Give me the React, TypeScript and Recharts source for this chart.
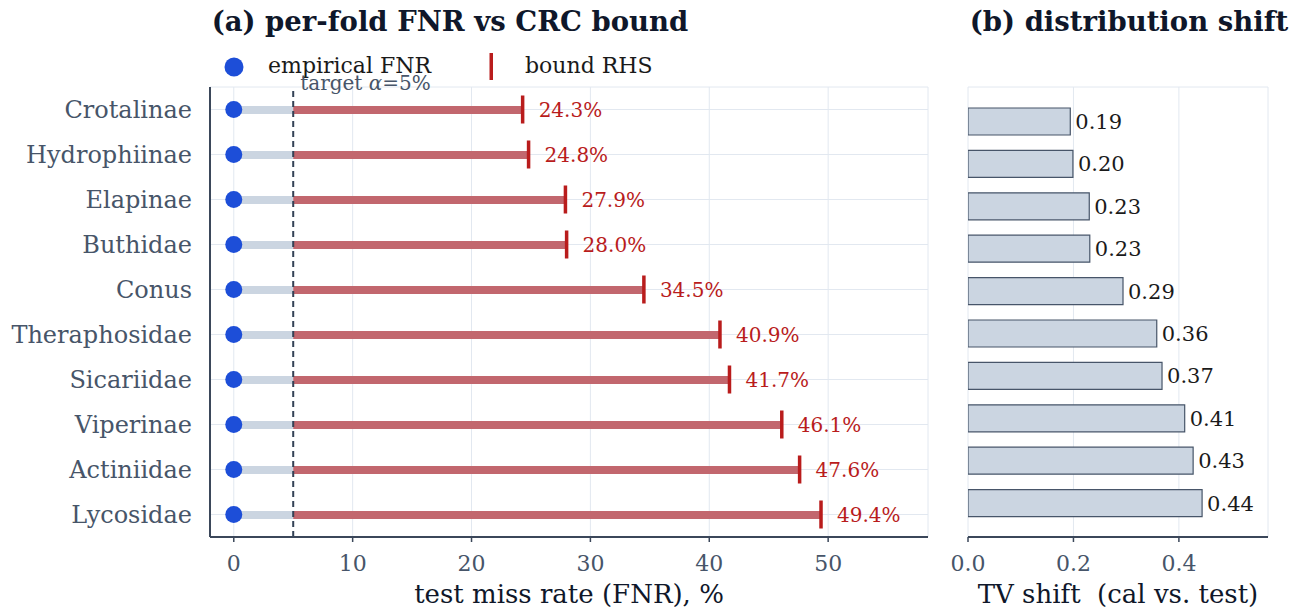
import React from 'react';
import {
  ComposedChart,
  BarChart,
  Bar,
  Line,
  XAxis,
  YAxis,
  CartesianGrid,
  ReferenceLine,
  LabelList,
} from 'recharts';

const categories = [
  'Crotalinae',
  'Hydrophiinae',
  'Elapinae',
  'Buthidae',
  'Conus',
  'Theraphosidae',
  'Sicariidae',
  'Viperinae',
  'Actiniidae',
  'Lycosidae',
];
const empiricalFnr = [0, 0, 0, 0, 0, 0, 0, 0, 0, 0];
const boundRhs = [24.3, 24.8, 27.9, 28.0, 34.5, 40.9, 41.7, 46.1, 47.6, 49.4];
const tvShift = [0.194, 0.199, 0.23, 0.231, 0.294, 0.358, 0.368, 0.411, 0.427, 0.444];
const targetAlpha = 5;
const fnrTicks = [0, 10, 20, 30, 40, 50];
const tvTicks = [0, 0.2, 0.4];

const FONT = '"DejaVu Serif", serif';
const SLATE = '#475569';
const AXIS = '#3b475a';
const GRID = '#e2e8f0';
const RED = '#b91c1c';
const BLUE = '#1d4ed8';

const fnrData = categories.map((name, i) => ({
  name,
  fnr: empiricalFnr[i],
  below: [empiricalFnr[i], targetAlpha],
  excess: [targetAlpha, boundRhs[i]],
  bound: boundRhs[i],
}));

const tvData = categories.map((name, i) => ({ name, tv: tvShift[i] }));

const BlueDot = (p: any) => (
  <circle key={`d${p.index}`} cx={p.cx} cy={p.cy} r={8.5} fill={BLUE} />
);

const BoundTick = (p: any) => (
  <rect key={`t${p.index}`} x={p.cx - 1.75} y={p.cy - 14} width={3.5} height={28} fill={RED} />
);

const TargetLabel = (p: any) => {
  const x = p.viewBox?.x ?? 0;
  const y = p.viewBox?.y ?? 0;
  return (
    <text x={x + 7} y={y + 3} fontFamily={FONT} fontSize={20} fill={SLATE}>
      target <tspan fontStyle="italic">α</tspan>=5%
    </text>
  );
};

const App: React.FC = () => {
  return (
    <div style={{ position: 'absolute', left: 0, top: 0, width: 1292, height: 611, background: '#fff', fontFamily: FONT }}>
      <svg width={1292} height={80} style={{ position: 'absolute', left: 0, top: 0 }}>
        <text x={450} y={31} textAnchor="middle" fontFamily={FONT} fontWeight="bold" fontSize={27.5} fill="#0f172a">
          (a) per-fold FNR vs CRC bound
        </text>
        <text x={1129} y={31} textAnchor="middle" fontFamily={FONT} fontWeight="bold" fontSize={27.5} fill="#0f172a">
          (b) distribution shift
        </text>
        <circle cx={234} cy={67} r={9.5} fill={BLUE} />
        <text x={268} y={73} fontFamily={FONT} fontSize={22} fill="#1a1a1a">
          empirical FNR
        </text>
        <rect x={489.5} y={53} width={3.5} height={27} fill={RED} />
        <text x={525} y={73} fontFamily={FONT} fontSize={22} fill="#1a1a1a">
          bound RHS
        </text>
      </svg>

      <div style={{ position: 'absolute', left: 0, top: 0 }}>
        <ComposedChart
          width={940}
          height={611}
          data={fnrData}
          layout="vertical"
          margin={{ top: 87, right: 12, bottom: 4, left: 10 }}
          barGap={-8}
        >
          <CartesianGrid stroke={GRID} strokeWidth={1} />
          <XAxis
            type="number"
            domain={[-2, 58.4]}
            ticks={fnrTicks}
            allowDataOverflow
            height={70}
            tickSize={5}
            tickMargin={13}
            axisLine={{ stroke: AXIS, strokeWidth: 2 }}
            tickLine={{ stroke: AXIS, strokeWidth: 1.5 }}
            tick={{ fill: SLATE, fontSize: 22, fontFamily: FONT }}
            label={{ value: 'test miss rate (FNR), %', position: 'insideBottom', offset: 4, fill: '#0f172a', fontSize: 26, fontFamily: FONT }}
          />
          <YAxis
            type="category"
            dataKey="name"
            width={200}
            tickLine={false}
            tickMargin={12}
            axisLine={{ stroke: AXIS, strokeWidth: 2 }}
            tick={{ fill: SLATE, fontSize: 24, fontFamily: FONT }}
          />
          <Bar dataKey="below" fill="#cbd5e1" barSize={8} isAnimationActive={false} />
          <Bar dataKey="excess" fill="#c2676e" barSize={8} isAnimationActive={false} />
          <ReferenceLine
            x={targetAlpha}
            stroke="#334155"
            strokeWidth={2}
            strokeDasharray="6 4"
            label={<TargetLabel />}
          />
          <Line dataKey="fnr" stroke="none" dot={BlueDot} activeDot={false} isAnimationActive={false} />
          <Line dataKey="bound" stroke="none" dot={BoundTick} activeDot={false} isAnimationActive={false}>
            <LabelList
              dataKey="bound"
              position="right"
              offset={16}
              formatter={(v: any) => `${Number(v).toFixed(1)}%`}
              style={{ fill: RED, fontSize: 20, fontFamily: FONT }}
            />
          </Line>
        </ComposedChart>
      </div>

      <div style={{ position: 'absolute', left: 940, top: 0 }}>
        <BarChart
          width={352}
          height={611}
          data={tvData}
          layout="vertical"
          margin={{ top: 87, right: 24, bottom: 4, left: 28 }}
        >
          <CartesianGrid stroke={GRID} strokeWidth={1} />
          <XAxis
            type="number"
            domain={[0, 0.569]}
            ticks={tvTicks}
            allowDataOverflow
            height={70}
            tickSize={5}
            tickMargin={13}
            axisLine={{ stroke: AXIS, strokeWidth: 2 }}
            tickLine={{ stroke: AXIS, strokeWidth: 1.5 }}
            tick={{ fill: SLATE, fontSize: 22, fontFamily: FONT }}
            tickFormatter={(v: number) => v.toFixed(1)}
            label={{ value: 'TV shift\u00a0 (cal vs. test)', position: 'insideBottom', offset: 4, fill: '#0f172a', fontSize: 26, fontFamily: FONT }}
          />
          <YAxis
            type="category"
            dataKey="name"
            width={0}
            tick={false}
            tickLine={false}
            padding={{ top: 13, bottom: 13 }}
            axisLine={{ stroke: AXIS, strokeWidth: 2 }}
          />
          <Bar dataKey="tv" fill="#cbd5e1" stroke={SLATE} strokeWidth={1.2} barSize={27} isAnimationActive={false}>
            <LabelList
              dataKey="tv"
              position="right"
              offset={5}
              formatter={(v: any) => Number(v).toFixed(2)}
              style={{ fill: '#1a1a1a', fontSize: 21, fontFamily: FONT }}
            />
          </Bar>
        </BarChart>
      </div>
    </div>
  );
};

export default App;
